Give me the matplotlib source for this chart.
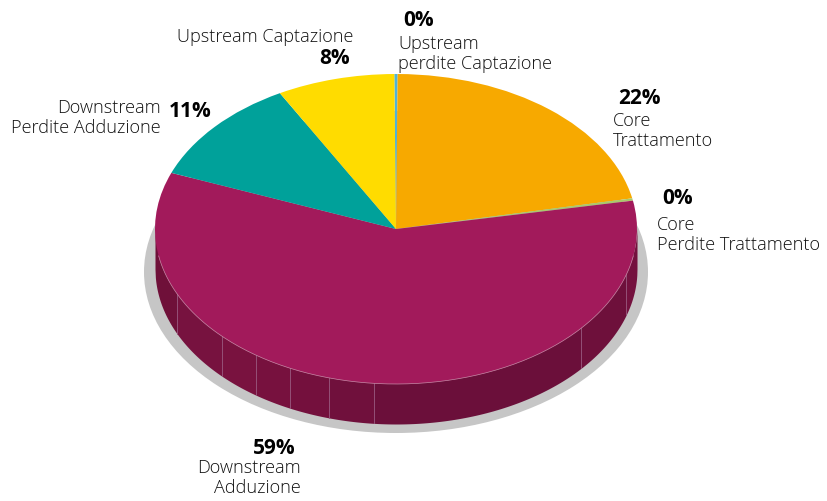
import numpy as np
import matplotlib
matplotlib.use("Agg")
import matplotlib.pyplot as plt
from matplotlib.patches import Ellipse

W, H = 827, 501

# clockwise from 12 o'clock
SHARES = [0.22, 21.72, 0.24, 58.83, 11.1, 7.89]
COLORS = ["#4fb3d9", "#f7a900", "#a9c96a", "#a21a5b", "#00a19a", "#ffdc00"]

# facets on the rim of the big slice (pixels along x), each a bit different in shade
RIM_EDGES = [155, 177, 222, 256, 290, 329, 374, 581, 626, 637]
RIM_SHADES = ["#6f1039", "#77123f", "#79123f", "#77113e", "#74103d", "#70103c", "#6b0f3a", "#6e103b", "#74113e"]

PCT_LABELS = ["0%", "22%", "0%", "59%", "11%", "8%"]
NAME_LABELS = ["Upstream\nperdite Captazione", "Core\nTrattamento", "Core\nPerdite Trattamento",
               "Downstream\nAdduzione", "Downstream\nPerdite Adduzione", "Upstream Captazione"]

CX, CY, RX, RY, DEPTH = 396, 229, 241, 155, 40

plt.rcParams["font.family"] = ["Open Sans", "DejaVu Sans"]

fig = plt.figure(figsize=(W / 100, H / 100), dpi=100)
bg = fig.add_axes([0, 0, 1, 1])
bg.set_xlim(0, W)
bg.set_ylim(H, 0)
bg.axis("off")

# grey shadow under the disc
bg.add_patch(Ellipse((CX, 272), 504, 322, color="#c6c6c6", lw=0))

# side of the disc, one facet at a time
for i, shade in enumerate(RIM_SHADES):
    xs = np.linspace(RIM_EDGES[i], RIM_EDGES[i + 1], 60)
    top = CY + RY * np.sqrt(np.clip(1 - ((xs - CX) / RX) ** 2, 0, 1))
    bg.fill_between(xs, top - 3, top + DEPTH, color=shade, lw=0)

for x in RIM_EDGES[1:-1]:
    dy = RY * np.sqrt(1 - ((x - CX) / RX) ** 2)
    bg.plot([x, x], [CY + dy, CY + dy + DEPTH], color="#96527a", lw=0.6)

# top of the disc, an inset axes squashes the circle to an ellipse
ax = fig.add_axes([(CX - RX) / W, 1 - (CY + RY) / H, 2 * RX / W, 2 * RY / H])
ax.pie(SHARES, colors=COLORS, startangle=90.4, counterclock=False, radius=1,
       wedgeprops={"lw": 0})
ax.set_aspect("auto")
ax.set_xlim(-1, 1)
ax.set_ylim(-1, 1)
ax.patch.set_alpha(0)

# pale line where the top meets the rim
t = np.radians(np.linspace(-170, -10, 200))
ax.plot(np.cos(t), np.sin(t), color="#c98aa8", lw=0.5, clip_on=False)

TXT = "#111111"
FS = 13.1
PS = 15


def label(i, xp, yp, xn, yn, ha="left"):
    bg.text(xp, yp, PCT_LABELS[i], fontsize=PS, fontweight="bold", color="black",
            ha=ha, va="center")
    bg.text(xn, yn, NAME_LABELS[i], fontsize=FS, color=TXT, ha=ha, va="center",
            linespacing=1.1, fontweight="light")


label(0, 403, 20, 398, 54)
label(1, 618, 98, 613, 131)
label(2, 662, 199, 657, 235)
label(3, 296, 448, 301, 478, ha="right")
label(4, 212, 111, 161, 118, ha="right")
label(5, 350, 58, 353, 37, ha="right")

fig.savefig("out.png", dpi=100)
